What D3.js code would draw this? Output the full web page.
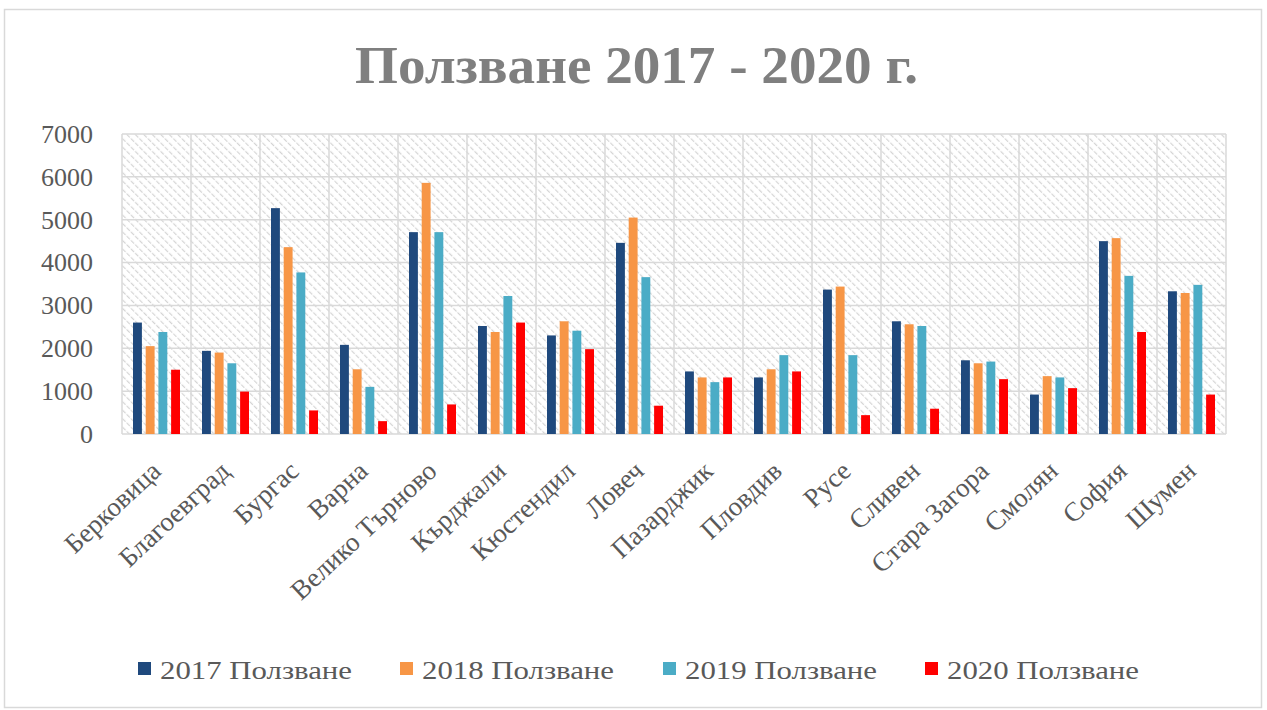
<!DOCTYPE html>
<html>
<head>
<meta charset="utf-8">
<script src="https://cdn.jsdelivr.net/npm/d3@7"></script>
<style>
  body { margin: 0; background: #fff; }
  svg { display: block; }
</style>
</head>
<body>
<svg width="1267" height="710"></svg>
<script>
// data
const cities = ["Берковица", "Благоевград", "Бургас", "Варна", "Велико Търново", "Кърджали",
  "Кюстендил", "Ловеч", "Пазарджик", "Пловдив", "Русе", "Сливен", "Стара Загора",
  "Смолян", "София", "Шумен"];
const seriesNames = ["2017 Ползване", "2018 Ползване", "2019 Ползване", "2020 Ползване"];
const v2017 = [2600, 1940, 5270, 2080, 4710, 2520, 2300, 4460, 1460, 1320, 3370, 2630, 1720, 920, 4500, 3330];
const v2018 = [2050, 1900, 4360, 1510, 5860, 2380, 2630, 5050, 1320, 1510, 3440, 2560, 1650, 1350, 4570, 3290];
const v2019 = [2380, 1650, 3770, 1100, 4710, 3220, 2410, 3660, 1210, 1840, 1840, 2520, 1690, 1320, 3690, 3480];
const v2020 = [1500, 990, 550, 300, 690, 2600, 1980, 660, 1320, 1460, 440, 590, 1280, 1070, 2380, 920];
const yTicks = [0, 1000, 2000, 3000, 4000, 5000, 6000, 7000];
const colors = ["#1F497D", "#F79646", "#4BACC6", "#FF0000"];

const allSeries = [v2017, v2018, v2019, v2020];

const svg = d3.select("svg");
const font = "'Liberation Serif', 'Times New Roman', serif";

// outer frame
svg.append("rect")
  .attr("x", 4.5).attr("y", 9.5)
  .attr("width", 1257).attr("height", 698)
  .attr("fill", "#fff")
  .attr("stroke", "#d9d9d9")
  .attr("stroke-width", 1.5);

// hatch pattern for the plot background
let defs = svg.append("defs");
let pat = defs.append("pattern")
  .attr("id", "hatch")
  .attr("patternUnits", "userSpaceOnUse")
  .attr("width", 6).attr("height", 6)
  .attr("patternTransform", "rotate(-45)");
pat.append("line")
  .attr("x1", 0).attr("y1", 0).attr("x2", 0).attr("y2", 6)
  .attr("stroke", "#d4d4d4")
  .attr("stroke-width", 2.4)
  .attr("stroke-dasharray", "3 1.5");

const margin = { left: 122, top: 134, right: 1226, bottom: 434 };

let x = d3.scaleBand()
  .domain(cities)
  .range([margin.left, margin.right]);

let xSeries = d3.scaleBand()
  .domain(d3.range(4))
  .range([11, x.bandwidth() - 11])
  .paddingInner(0.3);

let y = d3.scaleLinear()
  .domain([0, 7000])
  .range([margin.bottom, margin.top]);

// background
svg.append("rect")
  .attr("x", margin.left).attr("y", margin.top)
  .attr("width", margin.right - margin.left)
  .attr("height", margin.bottom - margin.top)
  .attr("fill", "url(#hatch)");

// gridlines
let grid = svg.append("g")
  .attr("stroke", "#d9d9d9")
  .attr("stroke-width", 1.5);
grid.selectAll("line.h")
  .data(yTicks)
  .join("line")
  .attr("class", "h")
  .attr("x1", margin.left).attr("x2", margin.right)
  .attr("y1", d => y(d)).attr("y2", d => y(d));
grid.selectAll("line.v")
  .data(cities.concat(["end"]))
  .join("line")
  .attr("class", "v")
  .attr("x1", (d, i) => i < cities.length ? x(d) : margin.right)
  .attr("x2", (d, i) => i < cities.length ? x(d) : margin.right)
  .attr("y1", margin.top).attr("y2", margin.bottom);

// bars
svg.append("g")
  .selectAll("g")
  .data(allSeries)
  .join("g")
  .attr("fill", (d, i) => colors[i])
  .each(function(vals, s) {
    d3.select(this).selectAll("rect")
      .data(vals)
      .join("rect")
      .attr("x", (d, i) => x(cities[i]) + xSeries(s))
      .attr("width", xSeries.bandwidth())
      .attr("y", d => y(d))
      .attr("height", d => y(0) - y(d));
  });

// y axis labels
let yAxis = svg.append("g")
  .attr("transform", `translate(${margin.left - 26},0)`)
  .call(d3.axisLeft(y).tickValues(yTicks).tickSize(0).tickFormat(d3.format("d")));
yAxis.select(".domain").remove();
yAxis.selectAll("text")
  .attr("font-family", font)
  .attr("font-size", 26)
  .attr("fill", "#595959");

// x axis labels
let xAxis = svg.append("g")
  .attr("transform", `translate(0,${margin.bottom})`)
  .call(d3.axisBottom(x).tickSize(0));
xAxis.select(".domain").remove();
xAxis.selectAll("text")
  .attr("font-family", font)
  .attr("font-size", 27)
  .attr("fill", "#595959")
  .attr("text-anchor", "end")
  .attr("y", 0)
  .attr("dy", 0)
  .attr("transform", "translate(6,39) rotate(-43)");

// title
svg.append("text")
  .attr("x", 355).attr("y", 83)
  .attr("font-family", font)
  .attr("font-weight", "bold")
  .attr("font-size", 52)
  .attr("fill", "#7f7f7f")
  .attr("textLength", 563)
  .attr("lengthAdjust", "spacingAndGlyphs")
  .text("Ползване 2017 - 2020 г.");

// legend
let legendX = [138, 400, 663, 925];
let legend = svg.append("g")
  .selectAll("g")
  .data(seriesNames)
  .join("g")
  .attr("transform", (d, i) => `translate(${legendX[i]},662)`);
legend.append("rect")
  .attr("x", 0).attr("y", 0)
  .attr("width", 13).attr("height", 13)
  .attr("fill", (d, i) => colors[i]);
legend.append("text")
  .attr("x", 22).attr("y", 17)
  .attr("font-family", font)
  .attr("font-size", 25)
  .attr("fill", "#595959")
  .attr("textLength", 192)
  .attr("lengthAdjust", "spacingAndGlyphs")
  .text(d => d);
</script>
</body>
</html>
